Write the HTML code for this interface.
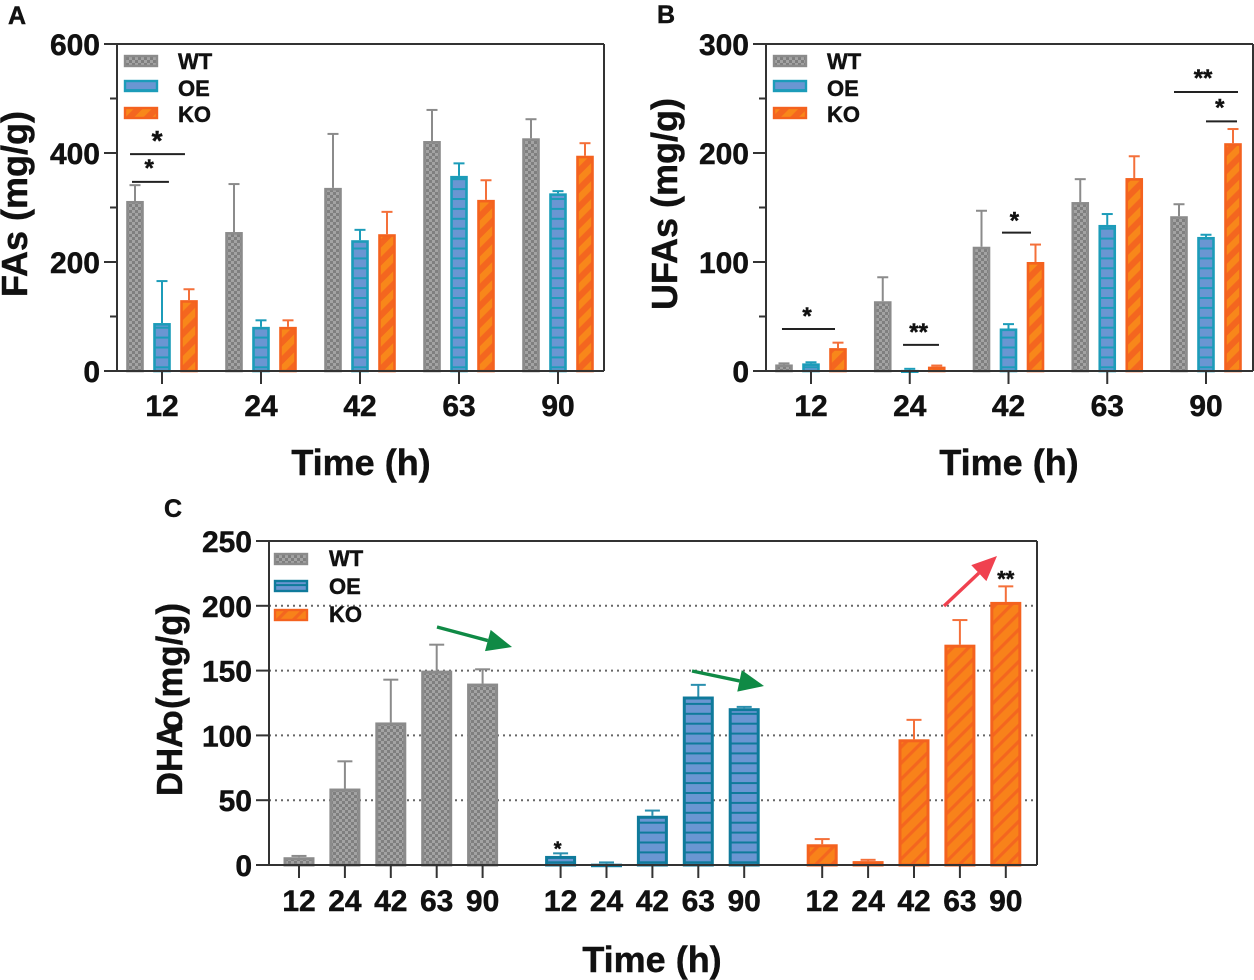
<!DOCTYPE html>
<html lang="en">
<head>
<meta charset="utf-8">
<title>Fatty acid content over time</title>
<style>
html,body{margin:0;padding:0;background:#fff}
svg{display:block}
text{font-family:"Liberation Sans",Arial,sans-serif;font-weight:bold;fill:#111;stroke:#111;stroke-width:.45px}
</style>
</head>
<body>
<svg id="fig" width="1254" height="980" viewBox="0 0 1254 980" xmlns="http://www.w3.org/2000/svg">
<defs>
<pattern id="pWT" width="6" height="6" patternUnits="userSpaceOnUse">
<rect width="6" height="6" fill="#7f7f7f"/><rect width="3" height="3" fill="#a3a3a3"/><rect x="3" y="3" width="3" height="3" fill="#a3a3a3"/>
</pattern>
<pattern id="pOE1" width="10" height="9.9" patternUnits="userSpaceOnUse">
<rect width="10" height="9.9" fill="#6a96d2"/><rect width="10" height="2" fill="#1c9cb9"/>
</pattern>
<pattern id="pOE2" width="10" height="9.9" patternUnits="userSpaceOnUse">
<rect width="10" height="9.9" fill="#6a96d2"/><rect width="10" height="2" fill="#0f7a9b"/>
</pattern>
<pattern id="pKO1" width="12.7" height="12.7" patternUnits="userSpaceOnUse" patternTransform="rotate(45)">
<rect width="12.7" height="12.7" fill="#f4661f"/><rect width="6.5" height="12.7" x="0" fill="#f8871a"/>
</pattern>
<pattern id="pKO2" width="11.3" height="11.3" patternUnits="userSpaceOnUse" patternTransform="rotate(45)">
<rect width="11.3" height="11.3" fill="#f8821a"/><rect width="3.2" height="11.3" x="0" fill="#f4661f"/>
</pattern>
</defs>

<text x="8" y="24" font-size="25">A</text>
<text x="657" y="23" font-size="25">B</text>
<text x="164" y="517" font-size="25">C</text>

<text transform="translate(27,204) rotate(-90)" text-anchor="middle" font-size="36">FAs (mg/g)</text>
<text transform="translate(677,204) rotate(-90)" text-anchor="middle" font-size="36">UFAs (mg/g)</text>
<text transform="translate(182,796) rotate(-90)" font-size="36" textLength="72" lengthAdjust="spacingAndGlyphs">DHA</text>
<text transform="translate(182,731) rotate(-90)" font-size="34">o</text>
<text transform="translate(182,709) rotate(-90)" font-size="36" textLength="106" lengthAdjust="spacingAndGlyphs">(mg/g)</text>

<text x="361" y="475" text-anchor="middle" font-size="36">Time (h)</text>
<text x="1009" y="475" text-anchor="middle" font-size="36">Time (h)</text>
<text x="652" y="972" text-anchor="middle" font-size="36">Time (h)</text>
<g id="layer"></g>
</svg>
<script>
// Shared categories
const categories = ['12', '24', '42', '63', '90'];
const seriesNames = ['WT', 'OE', 'KO'];

// Panel A: FAs (mg/g)
const faWT = [312, 255, 336, 422, 427];
const faWTErr = [341, 343, 435, 479, 462];
const faOE = [88, 81, 240, 358, 326];
const faOEErr = [165, 93, 259, 381, 330];
const faKO = [130, 81, 251, 314, 395];
const faKOErr = [150, 93, 292, 350, 418];
const faTicks = [0, 200, 400, 600];

// Panel B: UFAs (mg/g)
const ufaWT = [6, 64, 114, 155, 142];
const ufaWTErr = [7, 86, 147, 176, 153];
const ufaOE = [7, 1, 39, 134, 123];
const ufaOEErr = [8, 2, 43, 144, 125];
const ufaKO = [21, 4, 100, 177, 209];
const ufaKOErr = [26, 5, 116, 197, 222];
const ufaTicks = [0, 100, 200, 300];

// Panel C: DHA (mg/g)
const dhaWT = [6, 59, 110, 150, 140];
const dhaWTErr = [7, 80, 143, 170, 151];
const dhaOE = [7, 1, 38, 130, 121];
const dhaOEErr = [9, 2, 42, 139, 122];
const dhaKO = [16, 3, 97, 170, 203];
const dhaKOErr = [20, 4, 112, 189, 215];
const dhaTicks = [0, 50, 100, 150, 200, 250];
const dhaGrid = [50, 100, 150, 200];

const SVGNS = 'http://www.w3.org/2000/svg';
const layer = document.getElementById('layer');
const COL = {
  WT: { fill: 'url(#pWT)', stroke: '#8b8b8b', err: '#8b8b8b' },
  OE1: { fill: 'url(#pOE1)', stroke: '#1c9cb9', err: '#1c9cb9' },
  OE2: { fill: 'url(#pOE2)', stroke: '#0f7a9b', err: '#2a8fae' },
  KO1: { fill: 'url(#pKO1)', stroke: '#f4621f', err: '#f4703a' },
  KO2: { fill: 'url(#pKO2)', stroke: '#f4621f', err: '#f4703a' }
};

function make(tag, attrs, parent) {
  const n = document.createElementNS(SVGNS, tag);
  for (const k in attrs) n.setAttribute(k, attrs[k]);
  (parent || layer).appendChild(n);
  return n;
}
function line(x1, y1, x2, y2, color, w, name) {
  const l = make('line', { x1: x1, y1: y1, x2: x2, y2: y2, stroke: color, 'stroke-width': w });
  
  
  return l;
}
function label(x, y, str, size, anchor, name) {
  const t = make('text', { x: x, y: y, 'font-size': size, 'text-anchor': anchor });
  t.textContent = str;
  
  
  return t;
}
function bar(xc, width, yVal, yErr, y0, c, sw, capW, name) {
  line(xc, yVal, xc, yErr, c.err, 2, name + '-error-bar');
  line(xc - capW / 2, yErr, xc + capW / 2, yErr, c.err, 2, name + '-error-cap');
  const h = Math.max(y0 - yVal - sw / 2, 0.5);
  const r = make('rect', { x: xc - width / 2, y: yVal + sw / 2, width: width, height: h, fill: c.fill, stroke: c.stroke, 'stroke-width': sw });
  
  
}
function legend(xSwatch, xText, ys, baselines, cols, name) {
  seriesNames.forEach(function (s, i) {
    const r = make('rect', { x: xSwatch + 1, y: ys[i], width: 32, height: 10, fill: cols[i].fill, stroke: cols[i].stroke, 'stroke-width': 2.4 });
    
    
    label(xText, baselines[i], s, 22, 'start', name + '-label-' + s.toLowerCase());
  });
}
function star(x, y, str, size, name) {
  label(x, y + size * 0.5, str, size, 'middle', name);
}
function arrow(x1, y1, x2, y2, color, name) {
  const dx = x2 - x1, dy = y2 - y1, L = Math.hypot(dx, dy), ux = dx / L, uy = dy / L;
  const hl = 25, hw = 11;
  const bx = x2 - ux * hl, by = y2 - uy * hl;
  line(x1, y1, bx, by, color, 3.4, name + '-shaft');
  const p = make('polygon', { points: x2 + ',' + y2 + ' ' + (bx - uy * hw) + ',' + (by + ux * hw) + ' ' + (bx + uy * hw) + ',' + (by - ux * hw), fill: color });
  
  
}

function groupedPanel(opt) {
  const y = function (v) { return opt.y0 - v * (opt.y0 - opt.yTop) / opt.yMax; };
  const x = function (g) { return opt.x0 + opt.step * g; };
  const sets = [[opt.wt, opt.wtE, COL.WT, 'wt'], [opt.oe, opt.oeE, COL.OE1, 'oe'], [opt.ko, opt.koE, COL.KO1, 'ko']];
  sets.forEach(function (s, si) {
    s[0].forEach(function (v, g) {
      bar(x(g) + (si - 1) * 27, 15, y(v), y(s[1][g]), opt.y0, s[2], 2.6, 11, opt.id + '-bar-' + s[3] + '-' + categories[g]);
    });
  });
  // axes
  line(opt.xL, opt.yTop, opt.xL, opt.y0, '#333', 2, opt.id + '-y-axis');
  line(opt.xL - 13, opt.y0, opt.xR, opt.y0, '#333', 2, opt.id + '-x-axis');
  line(opt.xL - 13, opt.yTop, opt.xR, opt.yTop, '#333', 2, opt.id + '-top-frame');
  line(opt.xR, opt.yTop, opt.xR, opt.y0, '#333', 2, opt.id + '-right-frame');
  opt.ticks.forEach(function (t, i) {
    line(opt.xL - 13, y(t), opt.xL, y(t), '#333', 2, opt.id + '-y-tick-' + t);
    label(opt.xL - 17, y(t) + 11, String(t), 30, 'end', opt.id + '-y-tick-label-' + t);
    if (i < opt.ticks.length - 1) {
      const m = (t + opt.ticks[i + 1]) / 2;
      line(opt.xL - 7, y(m), opt.xL, y(m), '#333', 2, opt.id + '-y-minor-tick');
    }
  });
  categories.forEach(function (c, g) {
    line(x(g), opt.y0, x(g), opt.y0 + 13, '#333', 2, opt.id + '-x-tick-' + c);
    label(x(g), opt.y0 + 45, c, 30, 'middle', opt.id + '-x-tick-label-' + c);
  });
  opt.brackets.forEach(function (b, i) {
    line(x(b[0]), y(b[2]), x(b[1]), y(b[2]), '#222', 2, opt.id + '-significance-line-' + i);
    star(x(b[3]), y(b[2]) - b[5], b[4], b[6], opt.id + '-significance-mark-' + i);
  });
  legend(opt.xL + 7, opt.xL + 61, [56, 81, 108], [69, 96, 122], [COL.WT, COL.OE1, COL.KO1], opt.id + '-legend');
}

// Brackets: [groupStart, groupEnd, valueLevel, starGroup, mark, gapPx, fontSize]
const faBrackets = [[-0.323, 0.232, 398, -0.05, '*', 18, 28], [-0.303, 0.07, 347, -0.13, '*', 18, 24]];
const ufaBrackets = [
  [-0.294, 0.243, 38.5, -0.04, '*', 17, 24],
  [0.932, 1.296, 24, 1.09, '**', 17, 24],
  [1.934, 2.228, 127, 2.06, '*', 16, 24],
  [3.676, 4.324, 256, 3.97, '**', 18, 24],
  [4.0, 4.314, 229, 4.14, '*', 18, 24]
];

groupedPanel({ id: 'fas', x0: 162, step: 99, xL: 117, xR: 604, y0: 371, yTop: 44, yMax: 600,
  wt: faWT, wtE: faWTErr, oe: faOE, oeE: faOEErr, ko: faKO, koE: faKOErr, ticks: faTicks, brackets: faBrackets });
groupedPanel({ id: 'ufas', x0: 811, step: 98.75, xL: 766, xR: 1253, y0: 371, yTop: 44, yMax: 300,
  wt: ufaWT, wtE: ufaWTErr, oe: ufaOE, oeE: ufaOEErr, ko: ufaKO, koE: ufaKOErr, ticks: ufaTicks, brackets: ufaBrackets });

// Panel C
(function () {
  const y0 = 865, yTop = 541, yMax = 250, xL = 269, xR = 1037;
  const y = function (v) { return y0 - v * (y0 - yTop) / yMax; };
  const x = function (s, c) { return 299 + 45.9 * c + 261.6 * s; };
  dhaGrid.forEach(function (g) {
    const l = line(xL, y(g), xR, y(g), '#666', 2, 'dha-gridline-' + g);
    l.setAttribute('stroke-dasharray', '2 4');
  });
  const sets = [[dhaWT, dhaWTErr, COL.WT, 'wt'], [dhaOE, dhaOEErr, COL.OE2, 'oe'], [dhaKO, dhaKOErr, COL.KO2, 'ko']];
  sets.forEach(function (s, si) {
    s[0].forEach(function (v, c) {
      bar(x(si, c), 28, y(v), y(s[1][c]), y0, s[2], 3, 15, 'dha-bar-' + s[3] + '-' + categories[c]);
    });
  });
  line(xL, yTop, xL, y0, '#333', 2, 'dha-y-axis');
  line(xL - 13, y0, xR, y0, '#333', 2, 'dha-x-axis');
  line(xL - 13, yTop, xR, yTop, '#333', 2, 'dha-top-frame');
  line(xR, yTop, xR, y0, '#333', 2, 'dha-right-frame');
  dhaTicks.forEach(function (t) {
    line(xL - 13, y(t), xL, y(t), '#333', 2, 'dha-y-tick-' + t);
    label(xL - 17, y(t) + 11, String(t), 30, 'end', 'dha-y-tick-label-' + t);
  });
  sets.forEach(function (s, si) {
    categories.forEach(function (c, ci) {
      line(x(si, ci), y0, x(si, ci), y0 + 13, '#333', 2, 'dha-x-tick-' + s[3] + '-' + c);
      label(x(si, ci), y0 + 46, c, 30, 'middle', 'dha-x-tick-label-' + s[3] + '-' + c);
    });
  });
  legend(274, 329, [554, 581, 610], [566, 594, 622], [COL.WT, COL.OE2, COL.KO2], 'dha-legend');
  star(x(1, 0) - 3, y(dhaOEErr[0]) - 8, '*', 20, 'dha-significance-oe-12');
  star(x(2, 4), y(dhaKOErr[4]) - 11, '**', 22, 'dha-significance-ko-90');
  arrow(437, 627, 512, 647, '#0f8a45', 'trend-arrow-wt');
  arrow(692, 671, 764, 686, '#0f8a45', 'trend-arrow-oe');
  arrow(944, 606, 997, 556, '#f0414f', 'trend-arrow-ko');
})();
</script>
</body>
</html>
